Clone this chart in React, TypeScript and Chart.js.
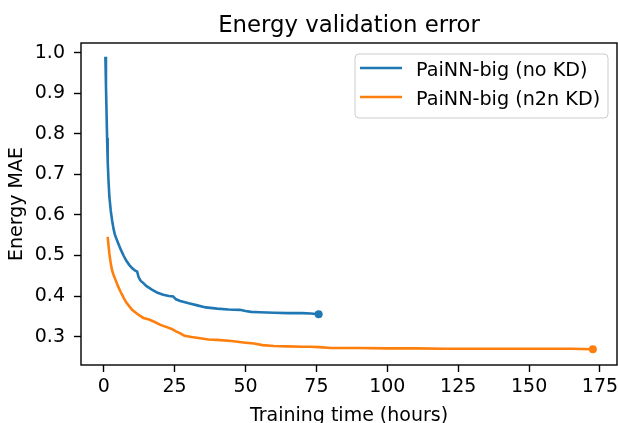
import React, { useEffect, useRef } from "react";
import { Chart, registerables } from "chart.js";

Chart.register(...registerables);

const CHART_TITLE = "Energy validation error";
const X_LABEL = "Training time (hours)";
const Y_LABEL = "Energy MAE";
const SERIES_NAMES = ["PaiNN-big (no KD)", "PaiNN-big (n2n KD)"];
const SERIES_COLORS = ["#1f77b4", "#ff7f0e"];
const X_TICKS = [0, 25, 50, 75, 100, 125, 150, 175];
const Y_TICKS = [0.3, 0.4, 0.5, 0.6, 0.7, 0.8, 0.9, 1.0];
const X_RANGE = [-8, 181];
const Y_RANGE = [0.23, 1.024];

const noKdHours = [0.6, 0.8, 1.0, 1.2, 1.4, 1.7, 2.0, 2.5, 3.0, 3.5, 4.0, 5.0, 6.0, 7.0, 8.0, 9.0, 10.0, 11.0, 11.8, 12.3, 13.0, 14.0, 15.0, 17.0, 19.0, 21.0, 23.0, 24.5, 25.5, 27.0, 30.0, 33.0, 36.0, 40.0, 44.0, 48.0, 50.0, 52.0, 55.0, 60.0, 65.0, 70.0, 73.0, 75.8];
const noKdMae = [0.99, 0.92, 0.855, 0.79, 0.735, 0.685, 0.645, 0.61, 0.585, 0.565, 0.55, 0.532, 0.515, 0.5, 0.487, 0.477, 0.469, 0.463, 0.46, 0.447, 0.438, 0.432, 0.425, 0.416, 0.408, 0.403, 0.4, 0.399, 0.392, 0.388, 0.382, 0.377, 0.372, 0.369, 0.367, 0.366, 0.363, 0.361, 0.36, 0.359, 0.358, 0.358, 0.357, 0.355];

const n2nHours = [1.4, 1.7, 2.0, 2.5, 3.0, 3.5, 4.0, 5.0, 6.0, 7.0, 8.0, 10.0, 12.0, 14.0, 16.0, 18.0, 20.0, 22.0, 24.0, 25.5, 27.0, 28.5, 31.0, 34.0, 37.0, 40.0, 45.0, 50.0, 53.0, 56.0, 60.0, 65.0, 70.0, 73.0, 76.0, 80.0, 90.0, 100.0, 110.0, 120.0, 130.0, 140.0, 150.0, 160.0, 165.0, 172.5];
const n2nMae = [0.546, 0.525, 0.505, 0.48, 0.462, 0.452, 0.443, 0.425, 0.41, 0.396, 0.384, 0.366, 0.355, 0.346, 0.342, 0.336, 0.329, 0.324, 0.319, 0.313, 0.308, 0.302, 0.299, 0.296, 0.293, 0.292, 0.289, 0.285, 0.283, 0.279, 0.277, 0.276, 0.275, 0.275, 0.274, 0.272, 0.272, 0.271, 0.271, 0.27, 0.27, 0.27, 0.27, 0.27, 0.27, 0.269];

const FONT = "'DejaVu Sans', sans-serif";
const TEXT_SIZE = 19;
const LEGEND_SIZE = 19.2;
const TITLE_SIZE = 22.8;

const toPoints = (xs: number[], ys: number[]) => xs.map((x, i) => ({ x, y: ys[i] }));

const framePlugin = {
  id: "frame",
  afterDatasetsDraw(chart: any) {
    const { ctx, chartArea } = chart;
    ctx.save();
    ctx.strokeStyle = "#000";
    ctx.lineWidth = 1.4;
    ctx.strokeRect(chartArea.left, chartArea.top, chartArea.right - chartArea.left, chartArea.bottom - chartArea.top);
    ctx.restore();
  },
};

const titlePlugin = {
  id: "axesTitle",
  afterDraw(chart: any) {
    const { ctx, chartArea } = chart;
    ctx.save();
    ctx.fillStyle = "#000";
    ctx.font = `${TITLE_SIZE}px ${FONT}`;
    ctx.textAlign = "center";
    ctx.textBaseline = "alphabetic";
    ctx.fillText(CHART_TITLE, (chartArea.left + chartArea.right) / 2, 32);
    ctx.restore();
  },
};

const legendPlugin = {
  id: "boxLegend",
  afterDraw(chart: any) {
    const { ctx, chartArea } = chart;
    const boxW = 253;
    const boxH = 64;
    const x0 = chartArea.right - 9 - boxW;
    const y0 = chartArea.top + 11;
    const r = 4;
    ctx.save();
    ctx.beginPath();
    ctx.moveTo(x0 + r, y0);
    ctx.lineTo(x0 + boxW - r, y0);
    ctx.quadraticCurveTo(x0 + boxW, y0, x0 + boxW, y0 + r);
    ctx.lineTo(x0 + boxW, y0 + boxH - r);
    ctx.quadraticCurveTo(x0 + boxW, y0 + boxH, x0 + boxW - r, y0 + boxH);
    ctx.lineTo(x0 + r, y0 + boxH);
    ctx.quadraticCurveTo(x0, y0 + boxH, x0, y0 + boxH - r);
    ctx.lineTo(x0, y0 + r);
    ctx.quadraticCurveTo(x0, y0, x0 + r, y0);
    ctx.closePath();
    ctx.fillStyle = "rgba(255,255,255,0.8)";
    ctx.fill();
    ctx.strokeStyle = "#cccccc";
    ctx.lineWidth = 1;
    ctx.stroke();
    SERIES_NAMES.forEach((name, i) => {
      const ly = y0 + 14 + i * 29;
      ctx.beginPath();
      ctx.strokeStyle = SERIES_COLORS[i];
      ctx.lineWidth = 2.6;
      ctx.moveTo(x0 + 5, ly);
      ctx.lineTo(x0 + 47, ly);
      ctx.stroke();
      ctx.fillStyle = "#000";
      ctx.font = `${LEGEND_SIZE}px ${FONT}`;
      ctx.textAlign = "left";
      ctx.textBaseline = "alphabetic";
      ctx.fillText(name, x0 + 61, ly + 7.5);
    });
    ctx.restore();
  },
};

export default function App() {
  const canvasRef = useRef<HTMLCanvasElement | null>(null);

  useEffect(() => {
    const canvas = canvasRef.current;
    if (!canvas) return;
    const lastRadius = (n: number) => (c: any) => (c.dataIndex === n - 1 ? 4 : 0);
    const chart = new Chart(canvas, {
      type: "line",
      data: {
        datasets: [
          {
            label: SERIES_NAMES[0],
            data: toPoints(noKdHours, noKdMae),
            borderColor: SERIES_COLORS[0],
            backgroundColor: SERIES_COLORS[0],
            borderWidth: 2.6,
            pointRadius: lastRadius(noKdHours.length),
            pointHoverRadius: 0,
            pointBorderWidth: 0,
            tension: 0,
            fill: false,
          },
          {
            label: SERIES_NAMES[1],
            data: toPoints(n2nHours, n2nMae),
            borderColor: SERIES_COLORS[1],
            backgroundColor: SERIES_COLORS[1],
            borderWidth: 2.6,
            pointRadius: lastRadius(n2nHours.length),
            pointHoverRadius: 0,
            pointBorderWidth: 0,
            tension: 0,
            fill: false,
          },
        ],
      },
      options: {
        animation: false,
        responsive: false,
        events: [],
        layout: { autoPadding: false, padding: { left: 0, right: 1, top: 43, bottom: 0 } },
        plugins: {
          legend: { display: false },
          tooltip: { enabled: false },
          title: { display: false },
        },
        scales: {
          x: {
            type: "linear",
            min: X_RANGE[0],
            max: X_RANGE[1],
            afterBuildTicks: (s: any) => {
              s.ticks = X_TICKS.map((v) => ({ value: v }));
            },
            afterFit: (s: any) => {
              s.height = 58;
              s.paddingLeft = 0;
              s.paddingRight = 0;
            },
            border: { display: false },
            grid: {
              display: true,
              drawOnChartArea: false,
              drawTicks: true,
              tickLength: 7,
              tickWidth: 1.4,
              tickColor: "#000",
            },
            ticks: {
              color: "#000",
              padding: 4,
              maxRotation: 0,
              autoSkip: false,
              font: { family: FONT, size: TEXT_SIZE },
              callback: (v: any) => String(v),
            },
            title: {
              display: true,
              text: X_LABEL,
              color: "#000",
              font: { family: FONT, size: TEXT_SIZE, lineHeight: 1 },
              padding: { top: 0, bottom: -2.5 },
            },
          },
          y: {
            type: "linear",
            min: Y_RANGE[0],
            max: Y_RANGE[1],
            afterBuildTicks: (s: any) => {
              s.ticks = Y_TICKS.map((v) => ({ value: v }));
            },
            afterFit: (s: any) => {
              s.width = 81;
              s.paddingTop = 0;
              s.paddingBottom = 0;
            },
            border: { display: false },
            grid: {
              display: true,
              drawOnChartArea: false,
              drawTicks: true,
              tickLength: 7,
              tickWidth: 1.4,
              tickColor: "#000",
            },
            ticks: {
              color: "#000",
              padding: 9,
              autoSkip: false,
              font: { family: FONT, size: TEXT_SIZE },
              callback: (v: any) => Number(v).toFixed(1),
            },
            title: {
              display: true,
              text: Y_LABEL,
              color: "#000",
              font: { family: FONT, size: TEXT_SIZE, lineHeight: 1 },
              padding: { top: 7.2, bottom: 0 },
            },
          },
        },
      },
      plugins: [framePlugin, titlePlugin, legendPlugin],
    } as any);
    return () => chart.destroy();
  }, []);

  return (
    <div style={{ position: "fixed", left: 0, top: 0, width: 618, height: 423, background: "#fff" }}>
      <canvas ref={canvasRef} width={618} height={423} style={{ display: "block" }} />
    </div>
  );
}
